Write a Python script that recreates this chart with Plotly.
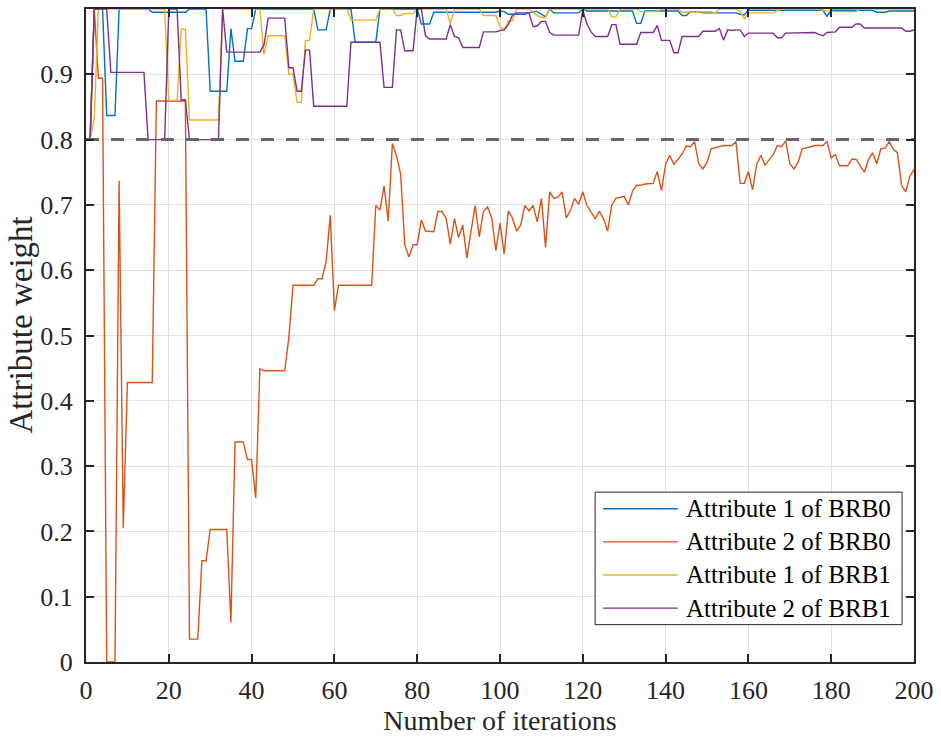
import plotly.graph_objects as go

# Iteration index of every recorded weight
iterations = list(range(1, 201))

# Attribute 1 of BRB0
attr1_brb0 = [
    0.800, 1.000, 1.000, 1.000, 0.837, 0.837, 0.837, 1.000, 1.000, 1.000,
    1.000, 1.000, 1.000, 1.000, 1.000, 0.995, 0.995, 0.995, 0.995, 0.995,
    0.995, 0.995, 0.995, 0.995, 1.000, 1.000, 1.000, 1.000, 1.000, 0.874,
    0.874, 0.874, 0.874, 0.874, 0.970, 0.920, 0.920, 0.920, 0.970, 0.970,
    1.000, 1.000, 1.000, 1.000, 1.000, 1.000, 1.000, 1.000, 1.000, 1.000,
    1.000, 1.000, 1.000, 1.000, 1.000, 0.968, 0.968, 0.968, 1.000, 1.000,
    1.000, 1.000, 1.000, 1.000, 0.949, 0.949, 0.949, 0.949, 0.949, 0.949,
    1.000, 1.000, 1.000, 1.000, 1.000, 1.000, 1.000, 1.000, 1.000, 1.000,
    0.977, 0.977, 0.977, 0.995, 0.995, 0.995, 0.995, 0.995, 0.995, 0.995,
    0.995, 0.995, 0.995, 0.995, 0.995, 0.995, 0.995, 0.995, 0.995, 0.997,
    0.996, 0.992, 0.992, 0.992, 0.992, 0.992, 0.994, 0.996, 0.996, 0.992,
    0.988, 1.000, 0.994, 0.994, 0.994, 0.994, 0.994, 0.994, 0.994, 1.000,
    0.997, 0.997, 0.997, 0.997, 0.997, 0.997, 0.997, 0.997, 0.997, 0.997,
    0.997, 0.997, 0.978, 0.978, 0.997, 0.997, 0.997, 0.997, 0.997, 0.997,
    0.997, 0.997, 0.997, 0.990, 0.990, 0.996, 0.996, 0.996, 0.994, 0.994,
    0.994, 0.994, 0.994, 0.994, 0.994, 0.994, 0.994, 0.992, 0.991, 0.998,
    0.998, 0.998, 0.998, 0.998, 0.998, 0.998, 0.998, 0.998, 0.998, 0.998,
    0.998, 0.998, 0.998, 0.998, 0.998, 0.998, 0.998, 0.998, 0.989, 0.998,
    0.998, 0.998, 0.998, 0.998, 0.998, 0.998, 0.998, 0.998, 0.998, 0.998,
    0.995, 0.995, 0.995, 0.997, 0.997, 0.997, 0.997, 0.997, 0.997, 0.997,
]

# Attribute 2 of BRB0
attr2_brb0 = [
    0.800, 1.000, 0.894, 0.894, 0.000, 0.000, 0.000, 0.737, 0.205, 0.428,
    0.428, 0.428, 0.428, 0.428, 0.428, 0.428, 0.859, 0.859, 0.859, 0.859,
    0.859, 0.859, 0.859, 0.859, 0.035, 0.035, 0.035, 0.155, 0.155, 0.203,
    0.203, 0.203, 0.203, 0.203, 0.061, 0.337, 0.337, 0.337, 0.310, 0.310,
    0.251, 0.449, 0.446, 0.446, 0.446, 0.446, 0.446, 0.446, 0.497, 0.577,
    0.577, 0.577, 0.577, 0.577, 0.577, 0.587, 0.587, 0.613, 0.684, 0.538,
    0.577, 0.577, 0.577, 0.577, 0.577, 0.577, 0.577, 0.577, 0.577, 0.699,
    0.692, 0.729, 0.675, 0.794, 0.775, 0.747, 0.639, 0.620, 0.639, 0.639,
    0.677, 0.660, 0.660, 0.659, 0.690, 0.690, 0.679, 0.640, 0.679, 0.650,
    0.669, 0.619, 0.660, 0.699, 0.651, 0.690, 0.697, 0.680, 0.630, 0.672,
    0.625, 0.691, 0.680, 0.660, 0.669, 0.699, 0.691, 0.699, 0.674, 0.710,
    0.635, 0.720, 0.710, 0.712, 0.720, 0.680, 0.691, 0.710, 0.701, 0.720,
    0.699, 0.690, 0.679, 0.690, 0.679, 0.660, 0.700, 0.710, 0.712, 0.713,
    0.700, 0.721, 0.730, 0.730, 0.732, 0.733, 0.733, 0.751, 0.722, 0.762,
    0.776, 0.762, 0.770, 0.778, 0.790, 0.789, 0.797, 0.763, 0.755, 0.765,
    0.786, 0.788, 0.789, 0.791, 0.791, 0.791, 0.797, 0.733, 0.733, 0.751,
    0.723, 0.762, 0.776, 0.761, 0.769, 0.777, 0.791, 0.789, 0.798, 0.763,
    0.755, 0.765, 0.786, 0.787, 0.789, 0.791, 0.791, 0.791, 0.797, 0.772,
    0.777, 0.760, 0.760, 0.760, 0.770, 0.770, 0.760, 0.750, 0.769, 0.780,
    0.763, 0.786, 0.787, 0.797, 0.785, 0.780, 0.730, 0.720, 0.744, 0.754,
]

# Attribute 1 of BRB1
attr1_brb1 = [
    0.800, 0.833, 1.000, 1.000, 1.000, 1.000, 1.000, 1.000, 1.000, 1.000,
    1.000, 1.000, 1.000, 1.000, 1.000, 1.000, 1.000, 1.000, 1.000, 0.860,
    0.860, 0.860, 0.969, 0.969, 0.830, 0.830, 0.830, 0.830, 0.830, 0.830,
    0.830, 0.830, 1.000, 1.000, 1.000, 1.000, 1.000, 1.000, 1.000, 1.000,
    1.000, 1.000, 0.930, 0.959, 0.959, 0.959, 0.959, 0.959, 0.900, 0.900,
    0.857, 0.857, 0.952, 0.952, 1.000, 1.000, 1.000, 1.000, 1.000, 1.000,
    1.000, 1.000, 1.000, 0.983, 0.983, 0.983, 0.983, 0.983, 0.983, 0.983,
    1.000, 1.000, 1.000, 1.000, 0.990, 0.990, 0.993, 0.993, 0.993, 1.000,
    1.000, 1.000, 1.000, 1.000, 1.000, 1.000, 1.000, 0.977, 1.000, 1.000,
    1.000, 1.000, 1.000, 1.000, 1.000, 0.990, 0.990, 0.990, 0.990, 0.973,
    0.968, 0.981, 0.982, 1.000, 1.000, 1.000, 1.000, 0.995, 0.990, 0.987,
    0.987, 1.000, 1.000, 1.000, 1.000, 1.000, 1.000, 1.000, 1.000, 1.000,
    1.000, 1.000, 1.000, 1.000, 1.000, 1.000, 0.988, 0.988, 1.000, 1.000,
    1.000, 1.000, 1.000, 0.996, 0.996, 0.996, 0.996, 0.996, 1.000, 1.000,
    1.000, 1.000, 1.000, 0.995, 0.995, 0.995, 0.995, 0.995, 0.995, 0.996,
    0.996, 0.994, 1.000, 1.000, 1.000, 1.000, 1.000, 0.996, 0.985, 0.994,
    0.994, 0.994, 0.994, 0.994, 0.994, 0.994, 0.998, 1.000, 1.000, 1.000,
    1.000, 1.000, 1.000, 1.000, 1.000, 1.000, 1.000, 0.998, 0.997, 0.996,
    0.996, 0.996, 0.996, 0.996, 0.996, 0.996, 1.000, 1.000, 1.000, 1.000,
    1.000, 1.000, 1.000, 1.000, 1.000, 1.000, 1.000, 1.000, 1.000, 1.000,
]

# Attribute 2 of BRB1
attr2_brb1 = [
    0.800, 1.000, 1.000, 1.000, 1.000, 0.903, 0.903, 0.903, 0.903, 0.903,
    0.903, 0.903, 0.903, 0.903, 0.800, 0.800, 0.800, 0.800, 0.800, 1.000,
    1.000, 1.000, 0.861, 0.861, 0.800, 0.800, 0.800, 0.800, 0.800, 0.800,
    0.800, 0.800, 1.000, 0.934, 0.934, 0.934, 0.934, 0.934, 0.934, 0.934,
    0.934, 0.934, 0.945, 0.986, 0.986, 0.986, 0.986, 0.986, 0.910, 0.910,
    0.874, 0.874, 0.937, 0.937, 0.851, 0.851, 0.851, 0.851, 0.851, 0.851,
    0.851, 0.851, 0.851, 0.949, 0.949, 0.949, 0.949, 0.949, 0.949, 0.949,
    0.949, 0.880, 0.880, 0.880, 0.968, 0.968, 0.936, 0.936, 0.936, 1.000,
    1.000, 0.959, 0.954, 0.954, 0.954, 0.954, 0.954, 0.976, 0.958, 0.956,
    0.941, 0.941, 0.941, 0.941, 0.941, 0.965, 0.965, 0.965, 0.965, 0.967,
    0.968, 0.976, 0.990, 0.994, 0.994, 0.994, 0.994, 0.973, 0.974, 0.981,
    0.981, 0.964, 0.960, 0.960, 0.960, 0.960, 0.960, 0.960, 0.960, 0.998,
    0.977, 0.965, 0.958, 0.958, 0.958, 0.958, 0.976, 0.976, 0.946, 0.946,
    0.946, 0.946, 0.946, 0.964, 0.964, 0.964, 0.964, 0.975, 0.952, 0.952,
    0.952, 0.933, 0.933, 0.958, 0.958, 0.958, 0.958, 0.958, 0.966, 0.966,
    0.966, 0.966, 0.970, 0.952, 0.968, 0.967, 0.968, 0.968, 0.958, 0.963,
    0.963, 0.963, 0.963, 0.963, 0.963, 0.963, 0.956, 0.956, 0.963, 0.963,
    0.963, 0.963, 0.964, 0.964, 0.964, 0.964, 0.961, 0.959, 0.964, 0.965,
    0.965, 0.972, 0.972, 0.972, 0.972, 0.977, 0.977, 0.971, 0.971, 0.971,
    0.971, 0.971, 0.971, 0.971, 0.971, 0.971, 0.971, 0.966, 0.966, 0.968,
]

# Reference threshold and its span along the iteration axis
threshold_x = [0, 200]
threshold_y = [0.8, 0.8]

series_names = ["Attribute 1 of BRB0", "Attribute 2 of BRB0",
                "Attribute 1 of BRB1", "Attribute 2 of BRB1"]
series_values = [attr1_brb0, attr2_brb0, attr1_brb1, attr2_brb1]
series_colors = ["#0072BD", "#D95319", "#EDB120", "#7E2F8E"]

x_ticks = [0, 20, 40, 60, 80, 100, 120, 140, 160, 180, 200]
y_ticks = [0, 0.1, 0.2, 0.3, 0.4, 0.5, 0.6, 0.7, 0.8, 0.9, 1]
y_tick_text = ["0", "0.1", "0.2", "0.3", "0.4", "0.5", "0.6", "0.7", "0.8", "0.9", "1"]

FONT = "Liberation Serif, Times New Roman, serif"
AXIS_COLOR = "#262626"
LINE_W = 1.4

fig = go.Figure()
for name, vals, color in zip(series_names, series_values, series_colors):
    fig.add_trace(go.Scatter(
        x=iterations, y=vals, mode="lines", name=name,
        line=dict(color=color, width=LINE_W), showlegend=False,
    ))

fig.add_trace(go.Scatter(
    x=threshold_x, y=threshold_y, mode="lines", showlegend=False,
    line=dict(color="#666666", width=3, dash="13px,12px"),
    hoverinfo="skip",
))

axis_common = dict(
    showline=True, mirror="ticks", linecolor=AXIS_COLOR, linewidth=2,
    ticks="inside", ticklen=8, tickwidth=2, tickcolor=AXIS_COLOR,
    showgrid=True, gridcolor="#e1e1e1", gridwidth=1,
    zeroline=False,
    tickfont=dict(family=FONT, size=26, color="#262626"),
)

# Legend box drawn in paper coordinates (lower right of the axes)
leg_x0, leg_x1 = 0.6149, 0.9856
leg_y0, leg_y1 = 0.0572, 0.2601
leg_line_x0, leg_line_x1 = 0.6245, 0.7148
leg_text_x = 0.7220
row_h = (leg_y1 - leg_y0) / 4

shapes = [dict(type="rect", xref="paper", yref="paper",
               x0=leg_x0, x1=leg_x1, y0=leg_y0, y1=leg_y1,
               line=dict(color=AXIS_COLOR, width=1), fillcolor="white", layer="above")]
annotations = []
for i, (name, color) in enumerate(zip(series_names, series_colors)):
    yc = leg_y1 - row_h * (i + 0.5)
    shapes.append(dict(type="line", xref="paper", yref="paper",
                       x0=leg_line_x0, x1=leg_line_x1, y0=yc, y1=yc,
                       line=dict(color=color, width=LINE_W), layer="above"))
    annotations.append(dict(xref="paper", yref="paper", x=leg_text_x, y=yc,
                            xanchor="left", yanchor="middle", showarrow=False,
                            text=name, font=dict(family=FONT, size=25, color="#000000")))

# Vertical axis label, set slightly above the axis midpoint
annotations.append(dict(xref="paper", yref="paper", x=-0.078, y=0.516,
                        xanchor="center", yanchor="middle", showarrow=False,
                        textangle=-90, text="Attribute weight",
                        font=dict(family=FONT, size=33, color="#262626")))

fig.update_layout(
    width=941, height=742,
    margin=dict(l=86, r=24, t=7, b=80),
    paper_bgcolor="white", plot_bgcolor="white",
    font=dict(family=FONT, color="#262626"),
    xaxis=dict(
        range=[0, 200], tickvals=x_ticks, ticklabelstandoff=4,
        title=dict(text="Number of iterations", font=dict(family=FONT, size=28), standoff=4),
        **axis_common,
    ),
    yaxis=dict(
        range=[0, 1], tickvals=y_ticks, ticktext=y_tick_text, ticklabelstandoff=6,
        **axis_common,
    ),
    shapes=shapes,
    annotations=annotations,
    showlegend=False,
)

fig.write_html("out.html")
